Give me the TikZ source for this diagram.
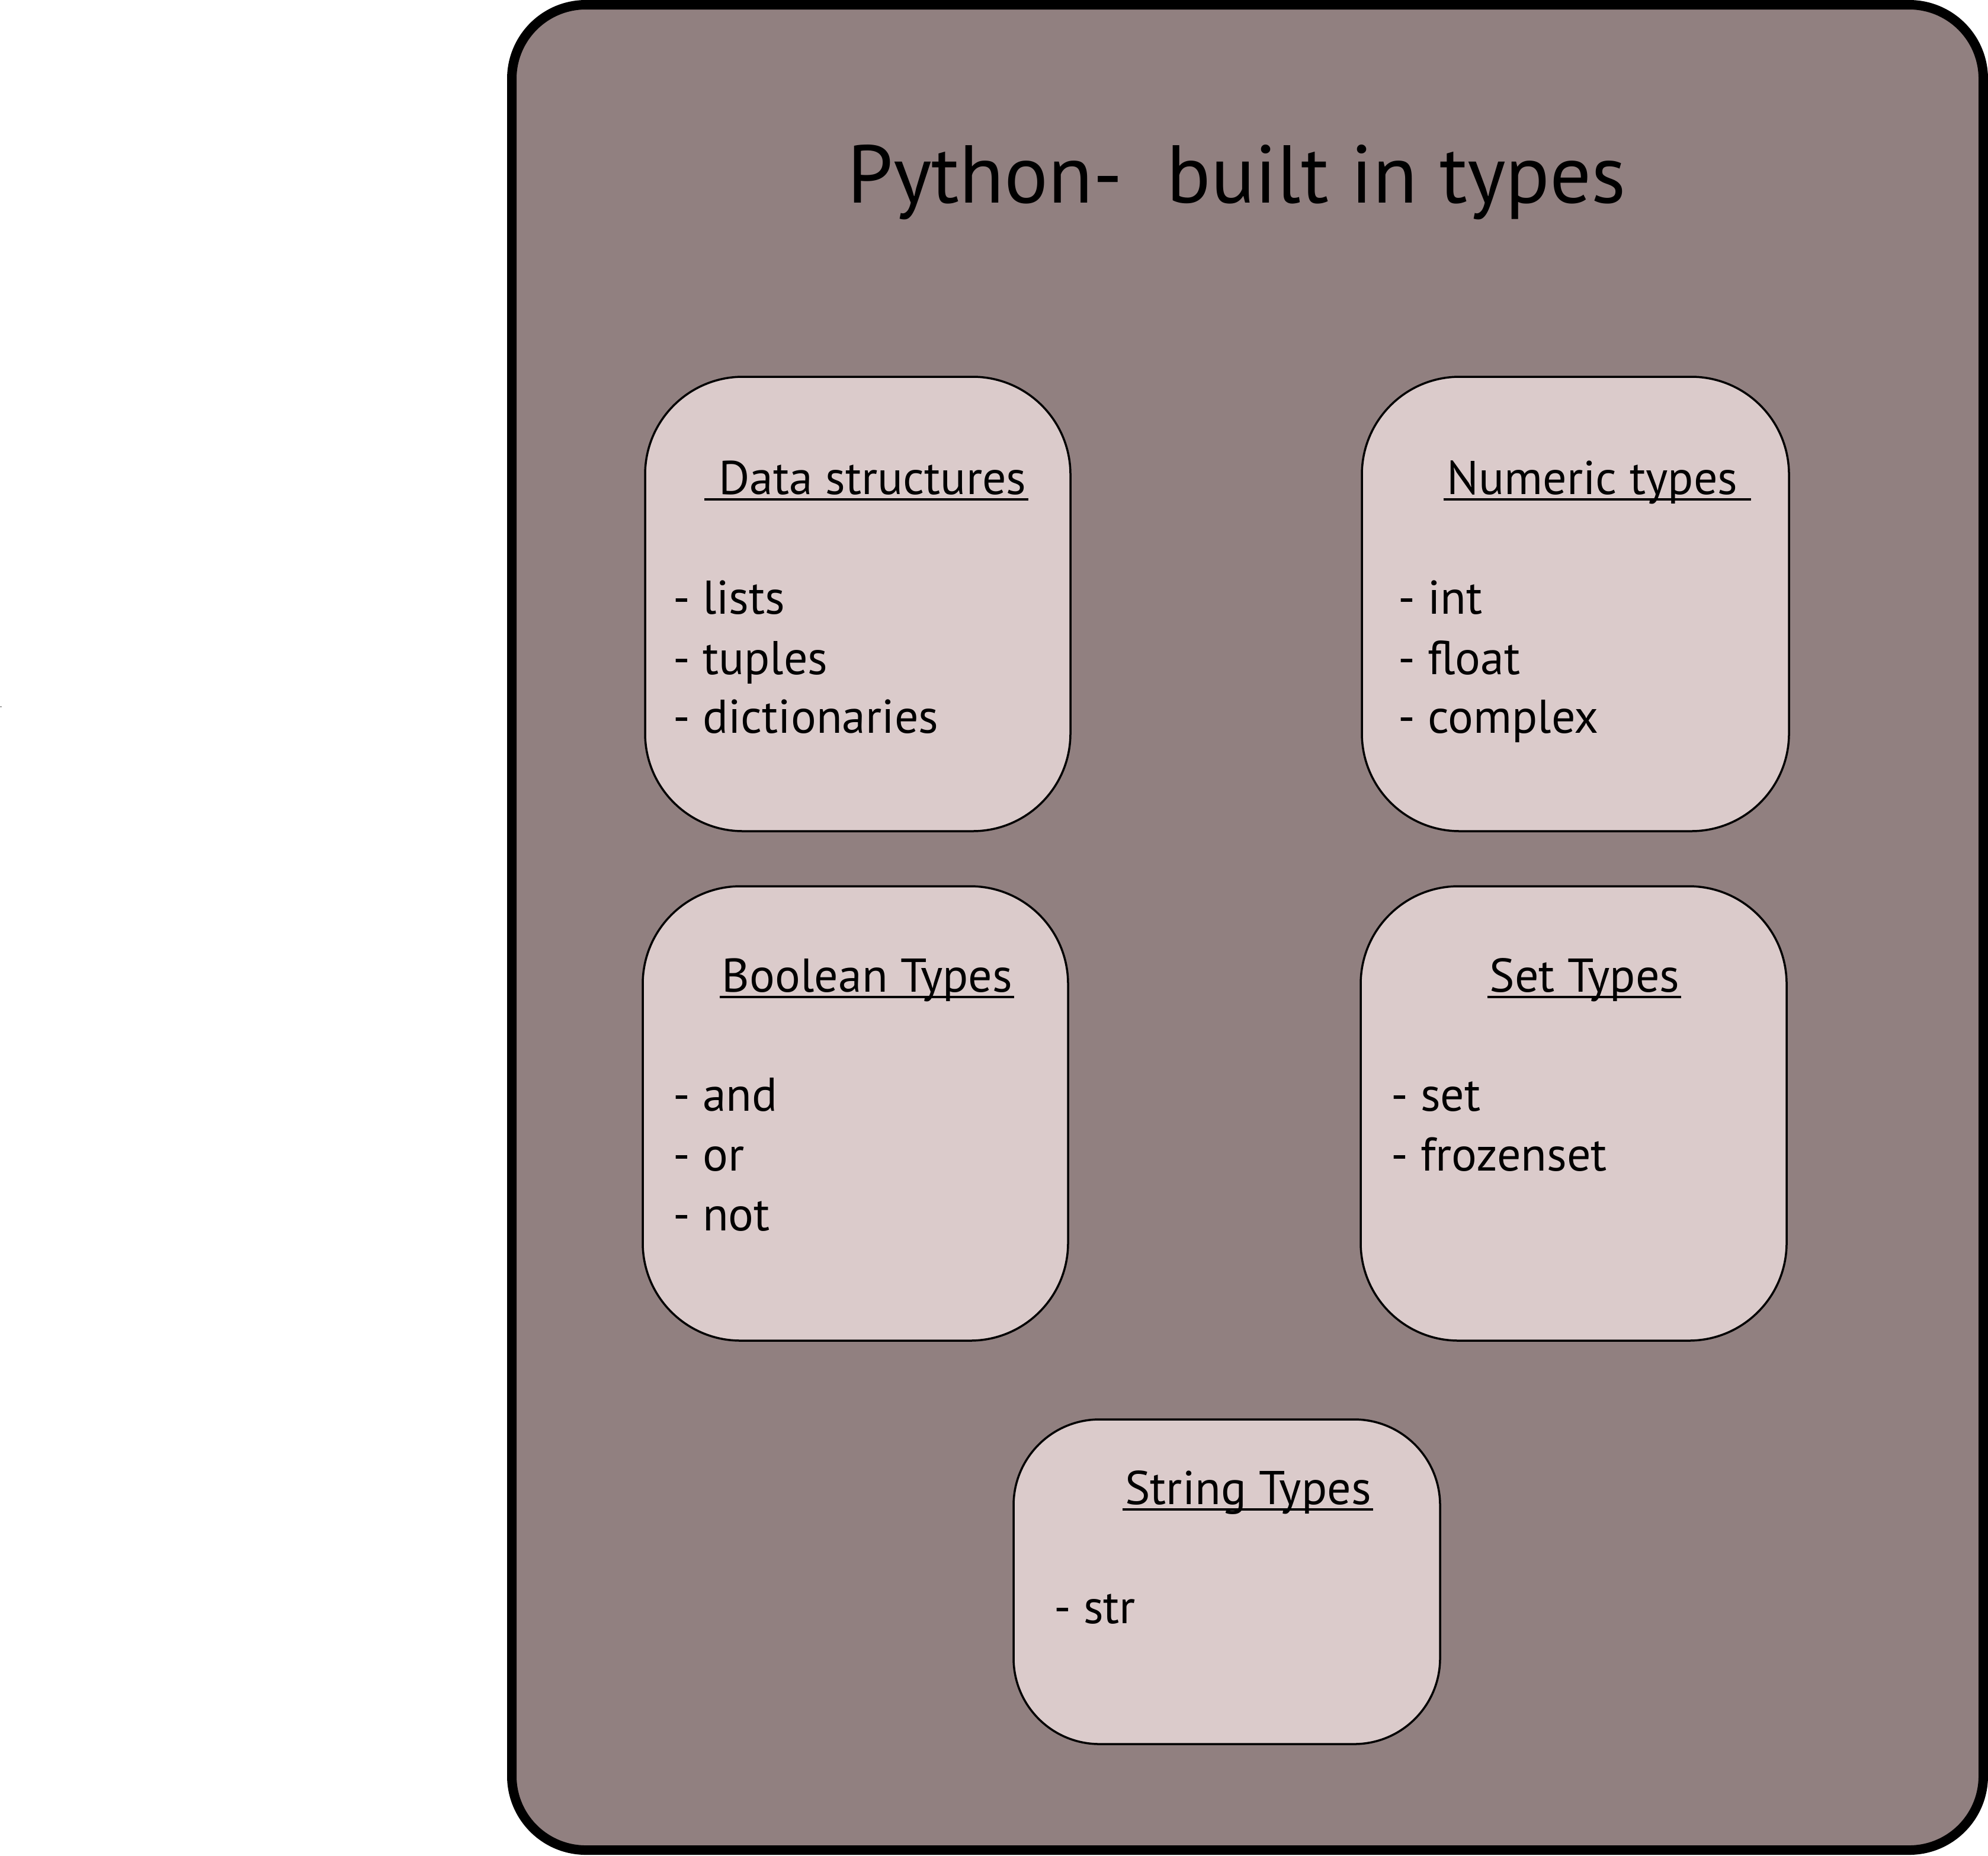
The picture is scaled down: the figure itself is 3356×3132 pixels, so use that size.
\documentclass[tikz,border=0pt]{standalone}
\usepackage{fontspec}
\setmainfont{PT Sans}
\usetikzlibrary{calc}
\definecolor{outerfill}{RGB}{145,128,128}
\definecolor{innerfill}{RGB}{219,203,203}
\tikzset{
  panel/.style={draw=black, line width=3.2pt, fill=outerfill, rounded corners=25pt},
  typebox/.style={draw=black, line width=0.7pt, fill=innerfill, rounded corners=33pt},
  smallbox/.style={draw=black, line width=0.7pt, fill=innerfill, rounded corners=29pt},
  titletext/.style={inner sep=0pt, anchor=base, font=\fontsize{27.7pt}{33pt}\selectfont},
  headtext/.style={inner sep=0pt, anchor=base, font=\fontsize{16.0pt}{19pt}\selectfont},
  itemtext/.style={inner sep=0pt, anchor=base west, font=\fontsize{16.0pt}{19pt}\selectfont},
  uline/.style={draw=black, line width=0.8pt},
}
\begin{document}
\begin{tikzpicture}[x=0.2pt, y=-0.2pt]
\useasboundingbox (0,0) rectangle (3356,3132);
% stray tick at left edge
\draw[gray!70, line width=0.4pt] (0,1193) -- (3,1193);
% outer panel
\draw[panel] (864,8) rectangle (3348,3123);
\node[titletext] (title) at (2088,342) {Python-\ \ built in types};
% boxes
\draw[typebox] (1089,636) rectangle (1807,1403);
\draw[typebox] (2299,636) rectangle (3020,1403);
\draw[typebox] (1085,1496) rectangle (1803,2263);
\draw[typebox] (2297,1496) rectangle (3016,2263);
\draw[smallbox] (1711,2396) rectangle (2431,2944);
% Data structures
\node[headtext] (h1) at (1473,834) {Data structures};
\draw[uline] ($(h1.base west)+(-23,9)$) -- ($(h1.base east)+(2,9)$);
\node[itemtext] (d1) at (1135,1036) {- lists};
\node[itemtext] (d2) at (1135,1138) {- tuples};
\node[itemtext] (d3) at (1135,1237) {- dictionaries};
% Numeric types
\node[headtext] (h2) at (2688,834) {Numeric types};
\draw[uline] ($(h2.base west)+(-5,9)$) -- ($(h2.base east)+(22,9)$);
\node[itemtext] (n1) at (2359,1036) {- int};
\node[itemtext] (n2) at (2359,1138) {- float};
\node[itemtext] (n3) at (2359,1237) {- complex};
% Boolean Types
\node[headtext] (h3) at (1464,1674) {Boolean Types};
\draw[uline] ($(h3.base west)+(-3,9)$) -- ($(h3.base east)+(2,9)$);
\node[itemtext] (b1) at (1135,1875) {- and};
\node[itemtext] (b2) at (1135,1976) {- or};
\node[itemtext] (b3) at (1135,2077) {- not};
% Set Types
\node[headtext] (h4) at (2675,1674) {Set Types};
\draw[uline] ($(h4.base west)+(-3,9)$) -- ($(h4.base east)+(2,9)$);
\node[itemtext] (s1) at (2347,1875) {- set};
\node[itemtext] (s2) at (2347,1976) {- frozenset};
% String Types
\node[headtext] (h5) at (2107,2539) {String Types};
\draw[uline] ($(h5.base west)+(-3,9)$) -- ($(h5.base east)+(2,9)$);
\node[itemtext] (t1) at (1778,2740) {- str};
\end{tikzpicture}
\end{document}
